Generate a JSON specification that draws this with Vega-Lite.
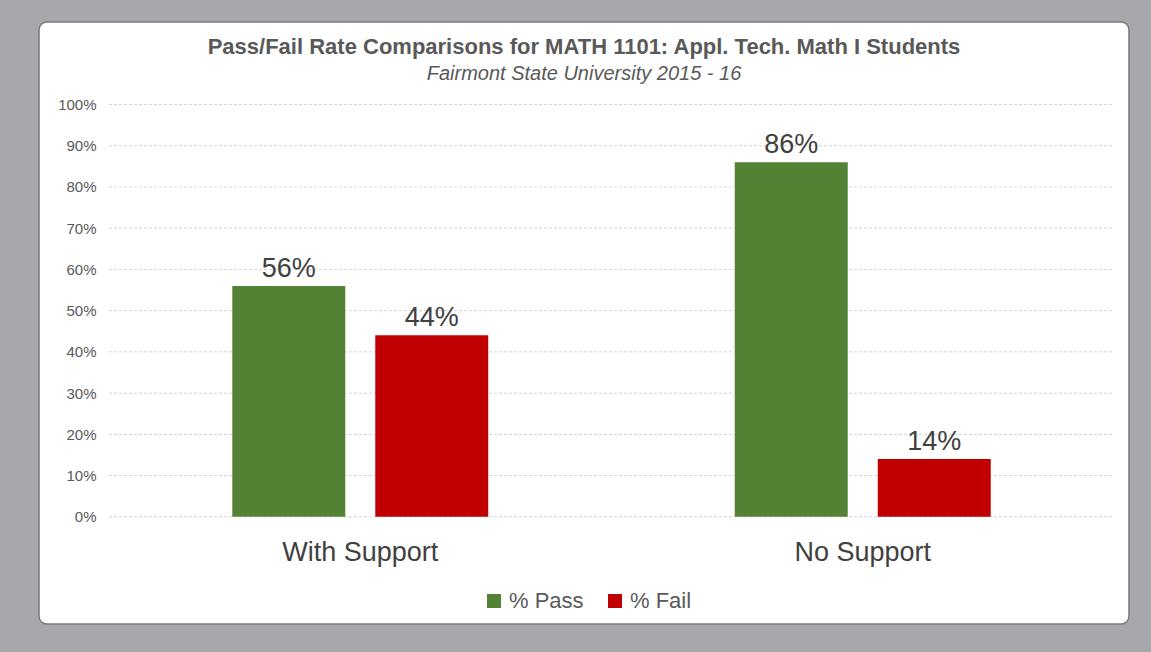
{
  "$schema": "https://vega.github.io/schema/vega-lite/v6.json",
  "width": 1090,
  "height": 602,
  "autosize": {"type": "none"},
  "padding": {"left": 39, "top": 22, "right": 22, "bottom": 28},
  "background": "#a7a8ac",
  "config": {
    "view": {"fill": "white", "stroke": "#7a7a7a", "strokeWidth": 1.5, "cornerRadius": 8},
    "font": "Liberation Sans"
  },
  "title": {
    "text": "Pass/Fail Rate Comparisons for MATH 1101: Appl. Tech. Math I Students",
    "subtitle": "Fairmont State University 2015 - 16",
    "anchor": "middle",
    "offset": -63,
    "fontSize": 22,
    "fontWeight": "bold",
    "color": "#595959",
    "subtitleFontSize": 20,
    "subtitleFontStyle": "italic",
    "subtitleColor": "#595959",
    "subtitlePadding": 5
  },
  "datasets": {
    "grid": [{"v": 0}, {"v": 10}, {"v": 20}, {"v": 30}, {"v": 40}, {"v": 50}, {"v": 60}, {"v": 70}, {"v": 80}, {"v": 90}, {"v": 100}]
  },
  "data": {
    "values": [
      {"group": "With Support", "measure": "% Pass", "value": 56, "label": "56%"},
      {"group": "With Support", "measure": "% Fail", "value": 44, "label": "44%"},
      {"group": "No Support", "measure": "% Pass", "value": 86, "label": "86%"},
      {"group": "No Support", "measure": "% Fail", "value": 14, "label": "14%"}
    ]
  },
  "layer": [
    {
      "data": {"name": "grid"},
      "mark": {"type": "rule", "strokeDash": [3, 2], "color": "#d4d4d4", "strokeWidth": 1},
      "encoding": {
        "y": {
          "field": "v", "type": "quantitative",
          "scale": {"domain": [-26, 120], "nice": false, "zero": false},
          "axis": {
            "title": null, "offset": -71, "values": [0, 10, 20, 30, 40, 50, 60, 70, 80, 90, 100],
            "labelExpr": "datum.value + '%'", "domain": false, "ticks": false, "grid": false,
            "labelFontSize": 15, "labelColor": "#595959", "labelPadding": 14
          }
        },
        "x": {"datum": "With Support", "type": "nominal", "bandPosition": 0},
        "x2": {"datum": "No Support", "bandPosition": 1}
      }
    },
    {
      "mark": {"type": "bar"},
      "encoding": {
        "x": {
          "field": "group", "type": "nominal",
          "scale": {"domain": ["With Support", "No Support"], "paddingInner": 0, "paddingOuter": 0.0846, "align": 0.8235},
          "axis": {
            "title": null, "orient": "bottom", "offset": -107, "domain": false, "ticks": false,
            "labelAngle": 0, "labelAlign": "center", "bandPosition": 0.5, "labelFontSize": 27, "labelColor": "#404040", "labelPadding": 35
          }
        },
        "xOffset": {
          "field": "measure", "type": "nominal",
          "scale": {"domain": ["% Pass", "% Fail"], "paddingInner": 0.21, "paddingOuter": 0.862}
        },
        "y": {"field": "value", "type": "quantitative", "title": null},
        "y2": {"datum": 0},
        "color": {
          "field": "measure", "type": "nominal",
          "scale": {"domain": ["% Pass", "% Fail"], "range": ["#548235", "#c00000"]},
          "legend": {
            "title": null, "orient": "none", "legendX": 444, "legendY": 568, "direction": "horizontal",
            "symbolType": "square", "symbolSize": 196, "symbolStrokeWidth": 0,
            "labelFontSize": 22, "labelColor": "#595959", "labelOffset": 4, "columnPadding": 20
          }
        }
      }
    },
    {
      "mark": {"type": "text", "baseline": "alphabetic", "dy": -9, "fontSize": 27, "color": "#404040"},
      "encoding": {
        "x": {"field": "group", "type": "nominal"},
        "xOffset": {"field": "measure", "type": "nominal"},
        "y": {"field": "value", "type": "quantitative", "title": null},
        "text": {"field": "label"}
      }
    }
  ]
}
